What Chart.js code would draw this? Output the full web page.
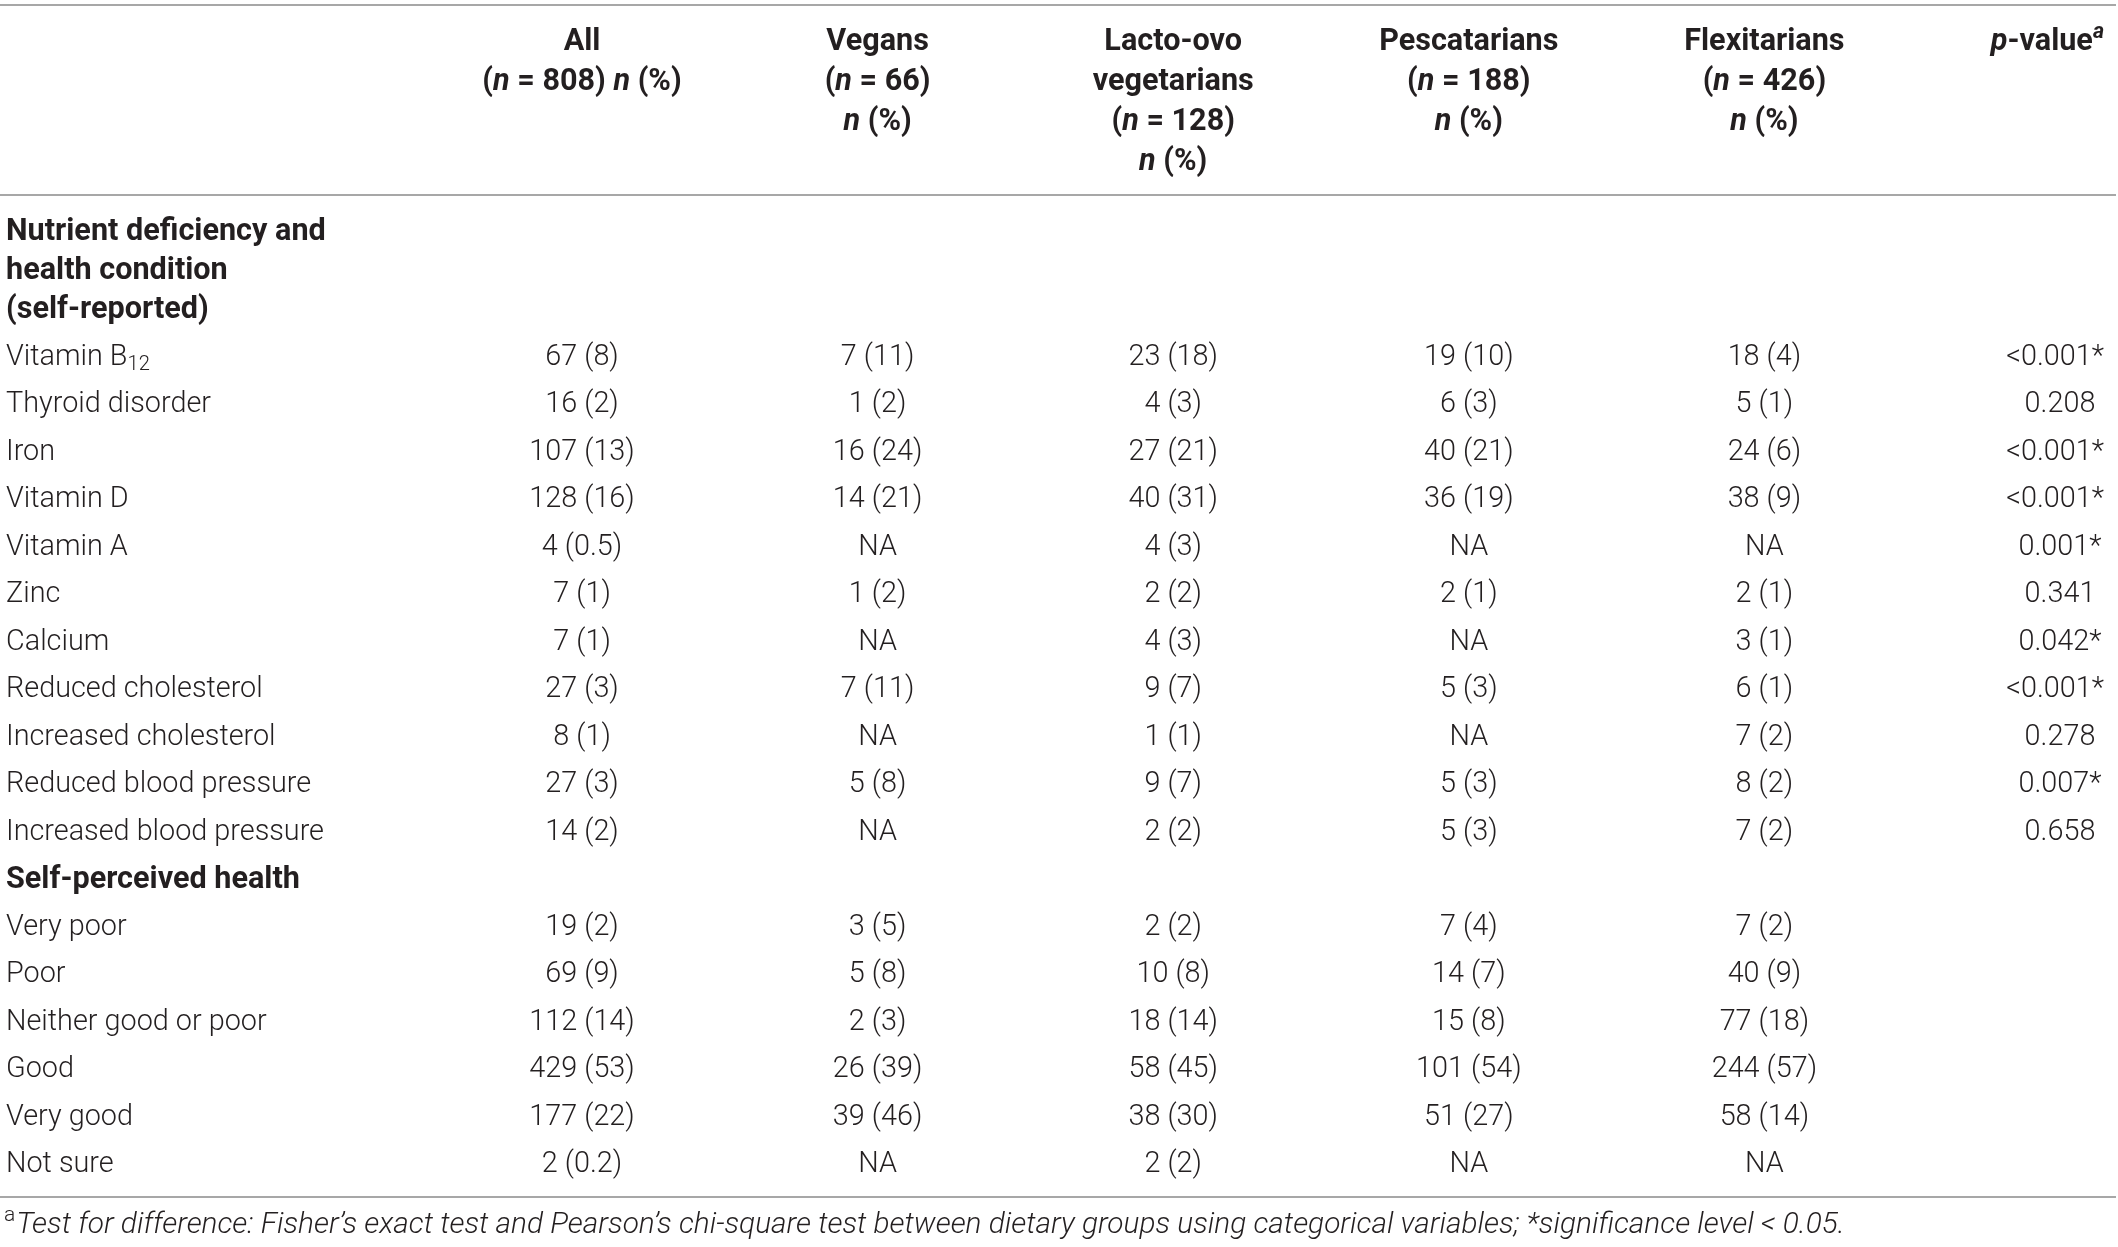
<!DOCTYPE html>
<html>
<head>
<meta charset="utf-8">
<script src="https://cdn.jsdelivr.net/npm/chart.js@4.4.0/dist/chart.umd.min.js"></script>
<style>
  html, body { margin: 0; padding: 0; background: #fff; }
  #wrap { width: 2118px; height: 1247px; position: relative; }
</style>
</head>
<body>
<div id="wrap"><canvas id="tabela"></canvas></div>
<script>
// columns (x categories) and their header lines; *x* = italic, ^x^ = italic superscript
const colunas = ["All", "Vegans", "Lacto-ovo vegetarians", "Pescatarians", "Flexitarians", "p-value"];
const cabecalhos = [
  ["All", "(*n* = 808) *n* (%)"],
  ["Vegans", "(*n* = 66)", "*n* (%)"],
  ["Lacto-ovo", "vegetarians", "(*n* = 128)", "*n* (%)"],
  ["Pescatarians", "(*n* = 188)", "*n* (%)"],
  ["Flexitarians", "(*n* = 426)", "*n* (%)"],
  ["*p*-value^a^"],
];

// rows (y categories); _x_ = subscript
const linhas = [
  "Nutrient deficiency and health condition (self-reported)",
  "Vitamin B_12_", "Thyroid disorder", "Iron", "Vitamin D", "Vitamin A", "Zinc", "Calcium",
  "Reduced cholesterol", "Increased cholesterol", "Reduced blood pressure", "Increased blood pressure",
  "Self-perceived health",
  "Very poor", "Poor", "Neither good or poor", "Good", "Very good", "Not sure",
];
const secoes = {
  "Nutrient deficiency and health condition (self-reported)": ["Nutrient deficiency and", "health condition", "(self-reported)"],
  "Self-perceived health": ["Self-perceived health"],
};

// counts and percents per group, in row order (section rows skipped); null = NA
const allN = [67, 16, 107, 128, 4, 7, 7, 27, 8, 27, 14, 19, 69, 112, 429, 177, 2];
const allPct = [8, 2, 13, 16, 0.5, 1, 1, 3, 1, 3, 2, 2, 9, 14, 53, 22, 0.2];
const vegansN = [7, 1, 16, 14, null, 1, null, 7, null, 5, null, 3, 5, 2, 26, 39, null];
const vegansPct = [11, 2, 24, 21, null, 2, null, 11, null, 8, null, 5, 8, 3, 39, 46, null];
const lactoN = [23, 4, 27, 40, 4, 2, 4, 9, 1, 9, 2, 2, 10, 18, 58, 38, 2];
const lactoPct = [18, 3, 21, 31, 3, 2, 3, 7, 1, 7, 2, 2, 8, 14, 45, 30, 2];
const pescaN = [19, 6, 40, 36, null, 2, null, 5, null, 5, 5, 7, 14, 15, 101, 51, null];
const pescaPct = [10, 3, 21, 19, null, 1, null, 3, null, 3, 3, 4, 7, 8, 54, 27, null];
const flexiN = [18, 5, 24, 38, null, 2, 3, 6, 7, 8, 7, 7, 40, 77, 244, 58, null];
const flexiPct = [4, 1, 6, 9, null, 1, 1, 1, 2, 2, 2, 2, 9, 18, 57, 14, null];
const pValores = ["<0.001*", "0.208", "<0.001*", "<0.001*", "0.001*", "0.341", "0.042*",
  "<0.001*", "0.278", "0.007*", "0.658"];

const rodape = "Test for difference: Fisher\u2019s exact test and Pearson\u2019s chi-square test between dietary groups using categorical variables; *significance level < 0.05.";

const FONTE = "Roboto";
const COR = "#231f20";
const COR_LINHA = "#a7a7a7";
const TAM = 28.8;
const TAM_NEGRITO = 30.6;

function fonte(tam, peso, italico) {
  return `${italico ? "italic " : ""}${peso} ${tam}px ${FONTE}`;
}

// split "*n* (%)" style markup into styled pieces
function partes(texto) {
  const out = [];
  const re = /(\*[^*]+\*|\^[^^]+\^|_[^_]+_)/g;
  let ultimo = 0, m;
  while ((m = re.exec(texto)) !== null) {
    if (m.index > ultimo) out.push({ t: texto.slice(ultimo, m.index), tipo: "n" });
    const c = m[0][0];
    out.push({ t: m[0].slice(1, -1), tipo: c === "*" ? "i" : c === "^" ? "sup" : "sub" });
    ultimo = m.index + m[0].length;
  }
  if (ultimo < texto.length) out.push({ t: texto.slice(ultimo), tipo: "n" });
  return out;
}

function escreve(ctx, texto, x, y, tam, peso, alinha, limite) {
  const pedacos = partes(texto).map((p) => {
    const pequeno = p.tipo === "sup" || p.tipo === "sub";
    const f = fonte(pequeno ? tam * 0.7 : tam, peso, p.tipo === "i" || p.tipo === "sup");
    ctx.font = f;
    const dy = p.tipo === "sup" ? -tam * 0.3 : p.tipo === "sub" ? tam * 0.27 : 0;
    return { t: p.t, f, dy, w: ctx.measureText(p.t).width };
  });
  const total = pedacos.reduce((acc, p) => acc + p.w, 0);
  let cx = alinha === "center" ? x - total / 2 : x;
  // keep text inside the right edge
  if (limite && cx + total > limite) cx = limite - total;
  pedacos.forEach((p) => {
    ctx.font = p.f;
    ctx.fillText(p.t, cx, y + p.dy);
    cx += p.w;
  });
}

function celula(n, pct) {
  return n === null ? "NA" : `${n} (${pct})`;
}

// one dataset per column, one point per (column, data row)
const linhasDados = linhas.filter((l) => !secoes[l]);
const grupos = [
  [allN, allPct], [vegansN, vegansPct], [lactoN, lactoPct],
  [pescaN, pescaPct], [flexiN, flexiPct],
];
const datasets = grupos.map(([ns, pcts], c) => ({
  label: colunas[c],
  data: linhasDados.map((l, i) => ({ x: colunas[c], y: l, texto: celula(ns[i], pcts[i]) })),
}));
datasets.push({
  label: colunas[5],
  data: pValores.map((p, i) => ({ x: colunas[5], y: linhasDados[i], texto: p })),
});

const pluginTabela = {
  id: "tabela",
  afterDraw(chart) {
    const ctx = chart.ctx;
    const { x, y } = chart.scales;
    const limite = chart.width - 14;
    ctx.save();
    ctx.fillStyle = COR;
    ctx.textBaseline = "middle";

    // rules
    ctx.strokeStyle = COR_LINHA;
    ctx.lineWidth = 2;
    [5, 195, 1197].forEach((yy) => {
      ctx.beginPath();
      ctx.moveTo(0, yy);
      ctx.lineTo(chart.width - 2, yy);
      ctx.stroke();
    });

    // column headers
    cabecalhos.forEach((linhasCab, c) => {
      const px = x.getPixelForValue(c);
      linhasCab.forEach((txt, k) => escreve(ctx, txt, px, 42 + k * 40, TAM_NEGRITO, 700, "center", limite));
    });

    // row labels
    linhas.forEach((l, i) => {
      const py = y.getPixelForValue(i);
      if (secoes[l]) {
        const ls = secoes[l];
        ls.forEach((txt, k) => escreve(ctx, txt, 6, py - (ls.length - 1 - k) * 39, TAM_NEGRITO, 700, "left"));
      } else {
        escreve(ctx, l, 6, py, TAM, 300, "left");
      }
    });

    // cells
    chart.data.datasets.forEach((ds, d) => {
      chart.getDatasetMeta(d).data.forEach((pt, i) => {
        escreve(ctx, ds.data[i].texto, pt.x, pt.y, TAM, 300, "center", limite);
      });
    });

    // footnote
    ctx.font = fonte(21, 300, false);
    ctx.fillText("a", 4, 1216);
    const wa = ctx.measureText("a").width;
    ctx.font = fonte(29.8, 300, true);
    ctx.fillText(rodape, 4 + wa + 1, 1226);
    ctx.restore();
  },
};

new Chart(document.getElementById("tabela"), {
  type: "scatter",
  data: { datasets },
  options: {
    responsive: true,
    maintainAspectRatio: false,
    animation: false,
    devicePixelRatio: 1,
    layout: { padding: { left: 582, right: 58, top: 310, bottom: 82 } },
    elements: { point: { radius: 0, hoverRadius: 0 } },
    plugins: { legend: { display: false }, tooltip: { enabled: false } },
    scales: {
      x: { type: "category", labels: colunas, offset: false, display: false },
      y: { type: "category", labels: linhas, offset: false, display: false },
    },
  },
  plugins: [pluginTabela],
});
</script>
</body>
</html>
